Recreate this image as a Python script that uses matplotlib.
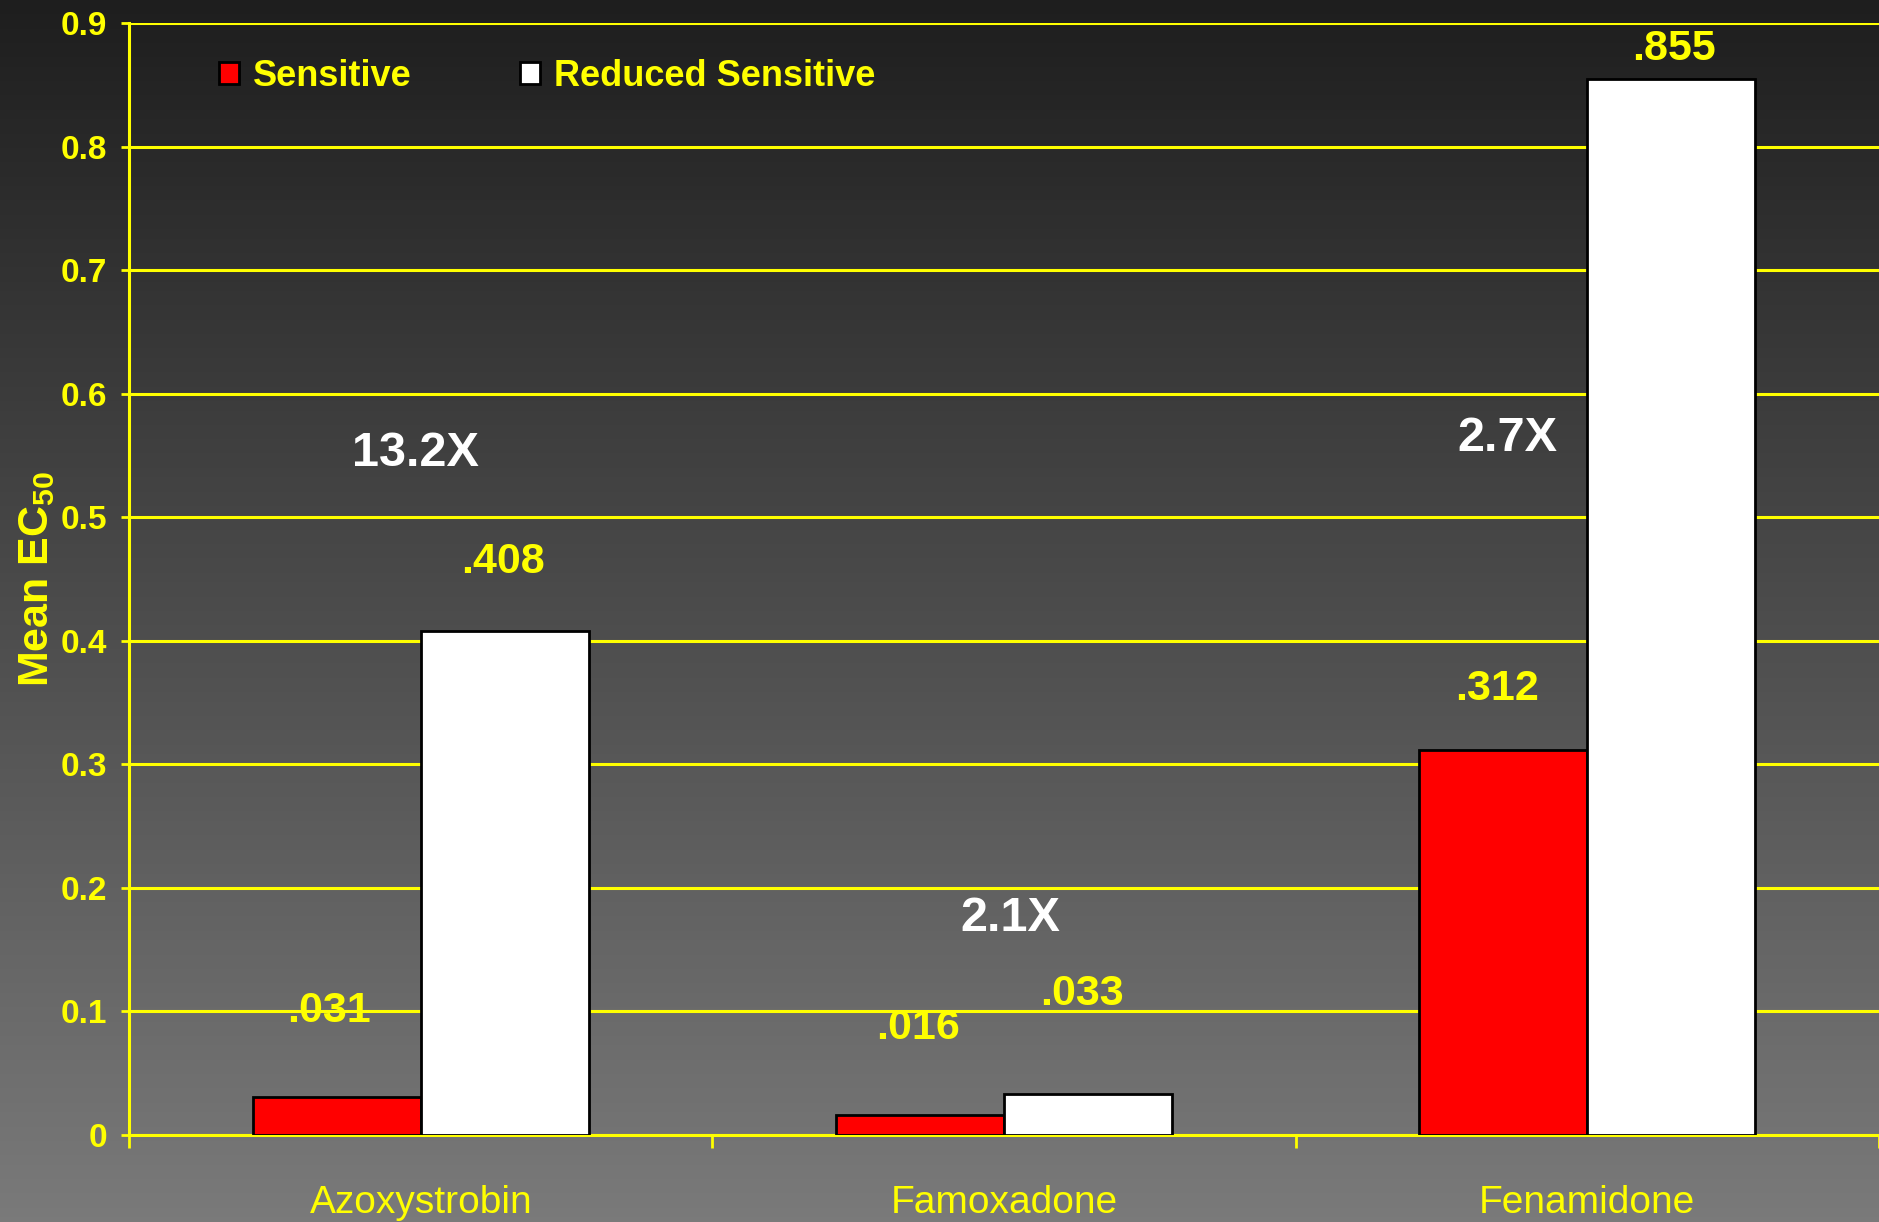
import matplotlib.pyplot as plt
import numpy as np

fungicides = ['Azoxystrobin', 'Famoxadone', 'Fenamidone']
sensitive = [0.031, 0.016, 0.312]
reduced = [0.408, 0.033, 0.855]
sens_labels = ['.031', '.016', '.312']
red_labels = ['.408', '.033', '.855']
fold_labels = ['13.2X', '2.1X', '2.7X']

# where the text labels sit (data coords), as on the slide
sens_lab_pos = [(-0.157, 0.100), (0.852, 0.087), (1.846, 0.361)]
red_lab_pos = [(0.141, 0.464), (1.133, 0.114), (2.148, 0.879)]
fold_pos = [(-0.009, 0.552), (1.010, 0.1755), (1.863, 0.564)]

yellow = '#ffff00'
plt.rcParams['font.family'] = ['Liberation Sans', 'DejaVu Sans']
plt.rcParams['mathtext.fontset'] = 'custom'
plt.rcParams['mathtext.bf'] = 'Liberation Sans:bold'

fig = plt.figure(figsize=(18.79, 12.22), dpi=100)

# gradient background
bg = fig.add_axes([0, 0, 1, 1], zorder=-10)
grad = np.linspace(0, 1, 256).reshape(-1, 1)
bg.imshow(grad, aspect='auto', cmap=plt.matplotlib.colors.LinearSegmentedColormap.from_list(
    'g', ['#1e1e1e', '#7a7a7a']), extent=[0, 1, 0, 1], origin='upper')
bg.axis('off')

ax = fig.add_axes([0.0687, 0.0712, 0.9313, 0.9098])
ax.patch.set_alpha(0)

x = np.arange(len(fungicides))
w = 0.288
ax.bar(x - w / 2, sensitive, w, color='#ff0000', edgecolor='black', linewidth=2.0,
       label='Sensitive', zorder=3)
ax.bar(x + w / 2, reduced, w, color='white', edgecolor='black', linewidth=2.0,
       label='Reduced Sensitive', zorder=3)

for lab, (px, py) in zip(sens_labels, sens_lab_pos):
    ax.text(px, py, lab, color=yellow, fontsize=31, fontweight='bold', ha='center', va='center')
for lab, (px, py) in zip(red_labels, red_lab_pos):
    ax.text(px, py, lab, color=yellow, fontsize=31, fontweight='bold', ha='center', va='center')
for lab, (px, py) in zip(fold_labels, fold_pos):
    ax.text(px, py, lab, color='white', fontsize=35, fontweight='bold', ha='center', va='center')

ax.set_xlim(-0.5, 2.5)
ax.set_ylim(0, 0.9)
ax.set_yticks(np.arange(0, 0.91, 0.1))
ax.set_yticklabels(['0'] + ['%.1f' % v for v in np.arange(0.1, 0.91, 0.1)])
ax.yaxis.grid(True, color=yellow, linewidth=2.2, zorder=1)
ax.set_axisbelow(True)
ax.set_xticks(x)
ax.set_xticklabels(fungicides)
ax.set_xticks([-0.5, 0.5, 1.5, 2.5], minor=True)
ax.tick_params(axis='x', which='major', length=0, pad=36, labelsize=28, labelcolor=yellow)
ax.tick_params(axis='x', which='minor', length=9, width=2, color=yellow, direction='out')
ax.tick_params(axis='y', length=6, width=2, color=yellow, labelsize=24, labelcolor=yellow, pad=10)
for t in ax.get_yticklabels():
    t.set_fontweight('bold')

for s in ['top', 'right']:
    ax.spines[s].set_visible(False)
ax.spines['left'].set_color(yellow)
ax.spines['left'].set_linewidth(2.2)
ax.spines['bottom'].set_color(yellow)
ax.spines['bottom'].set_linewidth(2.2)

ax.set_ylabel(r'Mean EC$\mathbf{_{50}}$', color=yellow, fontsize=31, fontweight='bold', labelpad=2)

leg = ax.legend(ncol=2, loc='center left', bbox_to_anchor=(0.043, 0.952), frameon=False,
                fontsize=26, handlelength=0.55, handleheight=0.55, handletextpad=0.4,
                columnspacing=3.0, borderaxespad=0)
for t in leg.get_texts():
    t.set_color(yellow)
    t.set_fontweight('bold')

fig.savefig('out.png', dpi=100)
